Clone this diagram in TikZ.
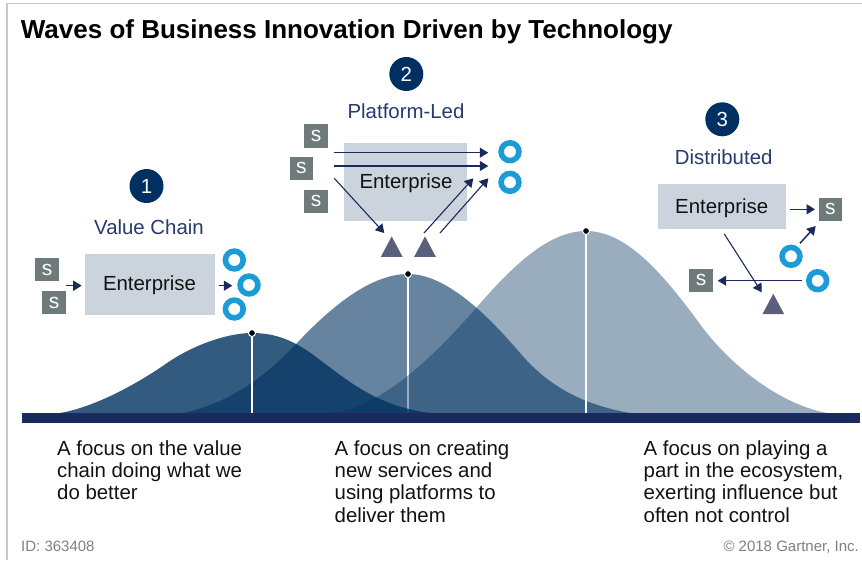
\documentclass[tikz,border=0pt]{standalone}
\usepackage{fontspec}
\setmainfont{Liberation Sans}
\usetikzlibrary{arrows.meta,shapes.geometric}

\definecolor{navy}{HTML}{003260}
\definecolor{badge}{HTML}{002F62}
\definecolor{heading}{HTML}{263B6B}
\definecolor{arrowblue}{HTML}{1A2A5C}
\definecolor{boxgrey}{HTML}{CBD3DD}
\definecolor{slate}{HTML}{6F7B7B}
\definecolor{ringblue}{HTML}{1B9BD8}
\definecolor{platform}{HTML}{5A5F7C}
\definecolor{framegrey}{HTML}{C8C8C8}

\tikzset{
	badge/.style = {circle, fill = badge, text = white, minimum size = 34pt, inner sep = 0pt, font = \fontsize{20.4}{22}\selectfont},
	wavename/.style = {anchor = base, text = heading, inner sep = 0pt, font = \fontsize{20.4}{22}\selectfont},
	enterprise/.style = {fill = boxgrey, inner sep = 0pt},
	boxlabel/.style = {anchor = base, text = black!93, inner sep = 0pt, font = \fontsize{20.4}{22}\selectfont},
	supplier/.style = {fill = slate, text = white, minimum size = 23.5pt, inner sep = 0pt, font = \fontsize{21}{21}\selectfont},
	ring/.style = {circle, draw = ringblue, line width = 5.6pt, fill = white, minimum size = 17.8pt, inner sep = 0pt},
	platformtri/.style = {isosceles triangle, isosceles triangle apex angle = 56, shape border rotate = 90, fill = platform, minimum height = 20.5pt, inner sep = 0pt, anchor = apex},
	flow/.style = {draw = arrowblue, line width = 1.1pt, -{Triangle[length = 8.5pt, width = 10pt]}},
	heavyflow/.style = {flow, line width = 1.5pt},
	peakdot/.style = {circle, fill = black!90!navy, draw = white, line width = 1pt, minimum size = 7pt, inner sep = 0pt},
	stem/.style = {draw = white, line width = 1.5pt},
	caption/.style = {anchor = north west, align = left, inner sep = 0pt, text = black!93, font = \fontsize{20.4}{22.3}\selectfont},
	footer/.style = {text = black!50, inner sep = 0pt, font = \fontsize{15}{16}\selectfont}
}

\begin{document}
\begin{tikzpicture}[x = 1pt, y = -1pt]
	\useasboundingbox (0,0) rectangle (862,560);

	\path
	(7,560) coordinate(FrameA)
	(7,3.5) coordinate(FrameB)
	(862,3.5) coordinate(FrameC)
	(252,333) coordinate(Peak1)
	(408,274) coordinate(Peak2)
	(586,231) coordinate(Peak3)
	(252,413) coordinate(Base1)
	(408,413) coordinate(Base2)
	(586,413) coordinate(Base3);

	\draw[framegrey, line width = 1.4pt] (FrameA) -- (FrameB) -- (FrameC);

	\fill[navy, opacity = 0.6] (182,413)
		.. controls (225,405) and (265,378) .. (297,343)
		.. controls (330,308) and (370,274) .. (Peak2)
		.. controls (445,274) and (485,312) .. (520,353)
		.. controls (550,388) and (585,405) .. (630,413) -- cycle;
	\draw[stem] (Peak2) -- (Base2);

	\fill[navy, opacity = 0.4] (333,413)
		.. controls (385,405) and (435,355) .. (477,307)
		.. controls (515,263) and (550,231) .. (Peak3)
		.. controls (625,231) and (660,270) .. (697,320)
		.. controls (725,360) and (775,403) .. (827,413) -- cycle;
	\draw[stem] (Peak3) -- (Base3);

	\fill[navy, opacity = 0.8] (60,413)
		.. controls (95,407) and (137,384) .. (167,363)
		.. controls (190,347) and (225,333) .. (Peak1)
		.. controls (275,333) and (295,340) .. (320,360)
		.. controls (345,378) and (375,406) .. (430,413) -- cycle;
	\draw[stem] (Peak1) -- (Base1);

	\fill[arrowblue] (22,413) rectangle (860,423);

	\node[peakdot] (Dot1) at (Peak1) {};
	\node[peakdot] (Dot2) at (Peak2) {};
	\node[peakdot] (Dot3) at (Peak3) {};

	\path
	(20.7,38.5) node[anchor = base west, inner sep = 0pt, font = \bfseries\fontsize{26}{28}\selectfont](Title){Waves of Business Innovation Driven by Technology}

	(146.5,186) node[badge](B1){1}
	(149,234) node[wavename](N1){Value Chain}
	(149.5,284.8) node[enterprise, minimum width = 130pt, minimum height = 61pt](E1){}
	(149.5,290.7) node[boxlabel](T1){Enterprise}
	(47,269.7) node[supplier](S1a){s}
	(54.2,302.5) node[supplier](S1b){s}
	(234.3,260) node[ring](C1a){}
	(249,285) node[ring](C1b){}
	(234.3,309) node[ring](C1c){}
	(66,285.7) coordinate(A1a)
	(81.7,285.7) coordinate(A1b)
	(219,285.7) coordinate(A1c)
	(232.3,285.7) coordinate(A1d)

	(406.3,74) node[badge](B2){2}
	(406,118.3) node[wavename](N2){Platform-Led}
	(405.8,182) node[enterprise, minimum width = 123pt, minimum height = 78pt](E2){}
	(406,188.3) node[boxlabel](T2){Enterprise}
	(316,136) node[supplier](S2a){s}
	(301.3,168.3) node[supplier](S2b){s}
	(316,201.3) node[supplier](S2c){s}
	(510,151.7) node[ring](C2a){}
	(510,182.3) node[ring](C2b){}
	(391.7,236) node[platformtri](P2a){}
	(425,236) node[platformtri](P2b){}
	(334.3,152.7) coordinate(A2a)
	(488.3,152.7) coordinate(A2b)
	(334.3,166) coordinate(A2c)
	(488.3,166) coordinate(A2d)
	(334.3,178.3) coordinate(A2e)
	(384.3,233) coordinate(A2f)
	(424,233) coordinate(A2g)
	(473.3,178.3) coordinate(A2h)
	(440,233) coordinate(A2i)
	(488.3,178.3) coordinate(A2j)

	(722.3,119.3) node[badge](B3){3}
	(723.7,164) node[wavename](N3){Distributed}
	(721.8,206.7) node[enterprise, minimum width = 127.7pt, minimum height = 44.7pt](E3){}
	(721.7,213.3) node[boxlabel](T3){Enterprise}
	(830.3,209.3) node[supplier](S3a){s}
	(701,280.3) node[supplier](S3b){s}
	(791,256.3) node[ring](C3a){}
	(817.7,280.7) node[ring](C3b){}
	(773.3,293.3) node[platformtri](P3){}
	(790,209.3) coordinate(A3a)
	(815,209.3) coordinate(A3b)
	(800,243.3) coordinate(A3c)
	(815.7,226) coordinate(A3d)
	(801.7,280.7) coordinate(A3e)
	(717.7,280.7) coordinate(A3f)
	(724.3,234) coordinate(A3g)
	(761.7,292.3) coordinate(A3h)

	(57,440.3) node[caption](D1){A focus on the value\\chain doing what we\\do better}
	(334.5,440.3) node[caption](D2){A focus on creating\\new services and\\using platforms to\\deliver them}
	(643.5,440.3) node[caption](D3){A focus on playing a\\part in the ecosystem,\\exerting influence but\\often not control}

	(21,551) node[footer, anchor = base west](F1){ID: 363408}
	(859,551) node[footer, anchor = base east](F2){© 2018 Gartner, Inc.};

	\draw[heavyflow] (A1a) -- (A1b);
	\draw[heavyflow] (A1c) -- (A1d);

	\draw[flow] (A2a) -- (A2b);
	\draw[flow] (A2c) -- (A2d);
	\draw[flow] (A2e) -- (A2f);
	\draw[flow] (A2g) -- (A2h);
	\draw[flow] (A2i) -- (A2j);

	\draw[heavyflow] (A3a) -- (A3b);
	\draw[heavyflow] (A3c) -- (A3d);
	\draw[flow] (A3e) -- (A3f);
	\draw[flow] (A3g) -- (A3h);
\end{tikzpicture}
\end{document}
